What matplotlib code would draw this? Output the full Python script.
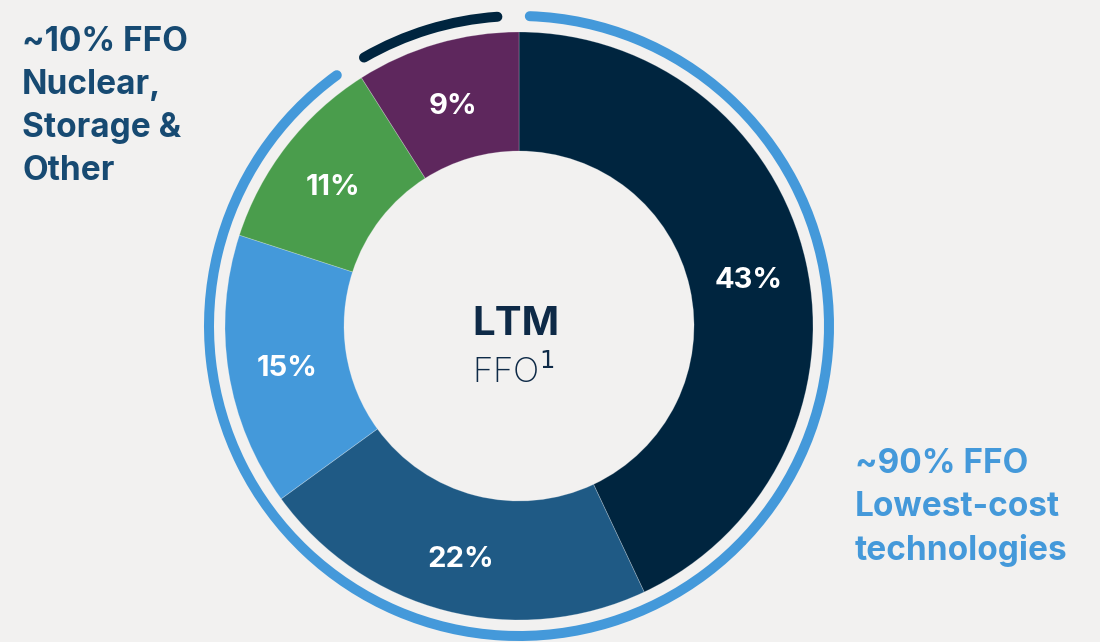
import matplotlib.pyplot as plt
from matplotlib.patches import Arc

# FFO share by technology, clockwise from 12 o'clock
shares = [43, 22, 15, 11, 9]
labels = ["43%", "22%", "15%", "11%", "9%"]
colors = ["#00253F", "#1F5A85", "#4499DA", "#4A9D4C", "#5E275D"]

# outer ring groups: (start angle, end angle) in degrees
ring_lowcost = (126, 448)
ring_other = (94, 120)

bg = "#F2F1F0"
plt.rcParams['font.family'] = ['Inter', 'DejaVu Sans']

fig = plt.figure(figsize=(11, 6.42), dpi=100, facecolor=bg)
ax = fig.add_axes([0, 0, 1, 1])
ax.set_facecolor(bg)

cx, cy, r = 519, 316, 294
wedges, texts = ax.pie(shares, labels=labels, colors=colors, startangle=90,
                       counterclock=False, center=(cx, cy), radius=r,
                       labeldistance=0.8,
                       wedgeprops=dict(width=119, edgecolor=(1, 1, 1, 0.25), linewidth=0.6),
                       textprops=dict(color="white", fontsize=21, fontweight="bold",
                                      ha="center", va="center"))
# nudge labels down a little, the glyph box sits high
for t in texts:
    x, y = t.get_position()
    t.set_position((x, y - 6))

# ring around the donut
ring_r = 310
ax.add_patch(Arc((cx, cy), 2 * ring_r, 2 * ring_r, theta1=ring_lowcost[0],
                 theta2=ring_lowcost[1], color="#4499DA", lw=7.2, capstyle="round"))
ax.add_patch(Arc((cx, cy), 2 * ring_r, 2 * ring_r, theta1=ring_other[0],
                 theta2=ring_other[1], color="#00253F", lw=7.2, capstyle="round"))

ax.set_xlim(0, 1100)
ax.set_ylim(0, 642)
ax.set_aspect("equal")
ax.axis("off")

# centre text
ax.text(cx - 3, cy - 9, "LTM", ha="center", va="baseline", fontsize=29,
        fontweight="bold", color="#0E2A47")
ax.text(cx - 6, cy - 57, "FFO$^{1}$", ha="center", va="baseline", fontsize=25,
        fontweight="light", color="#0E2A47")

# side annotations
ax.text(22, 642 - 26, "~10% FFO\nNuclear,\nStorage &\nOther", ha="left",
        va="top", fontsize=24, fontweight="bold", color="#174A72",
        linespacing=1.44)
ax.text(855, 642 - 448, "~90% FFO\nLowest-cost\ntechnologies", ha="left",
        va="top", fontsize=24, fontweight="bold", color="#4499DA",
        linespacing=1.44)

fig.savefig("out.png", dpi=100, facecolor=bg)
